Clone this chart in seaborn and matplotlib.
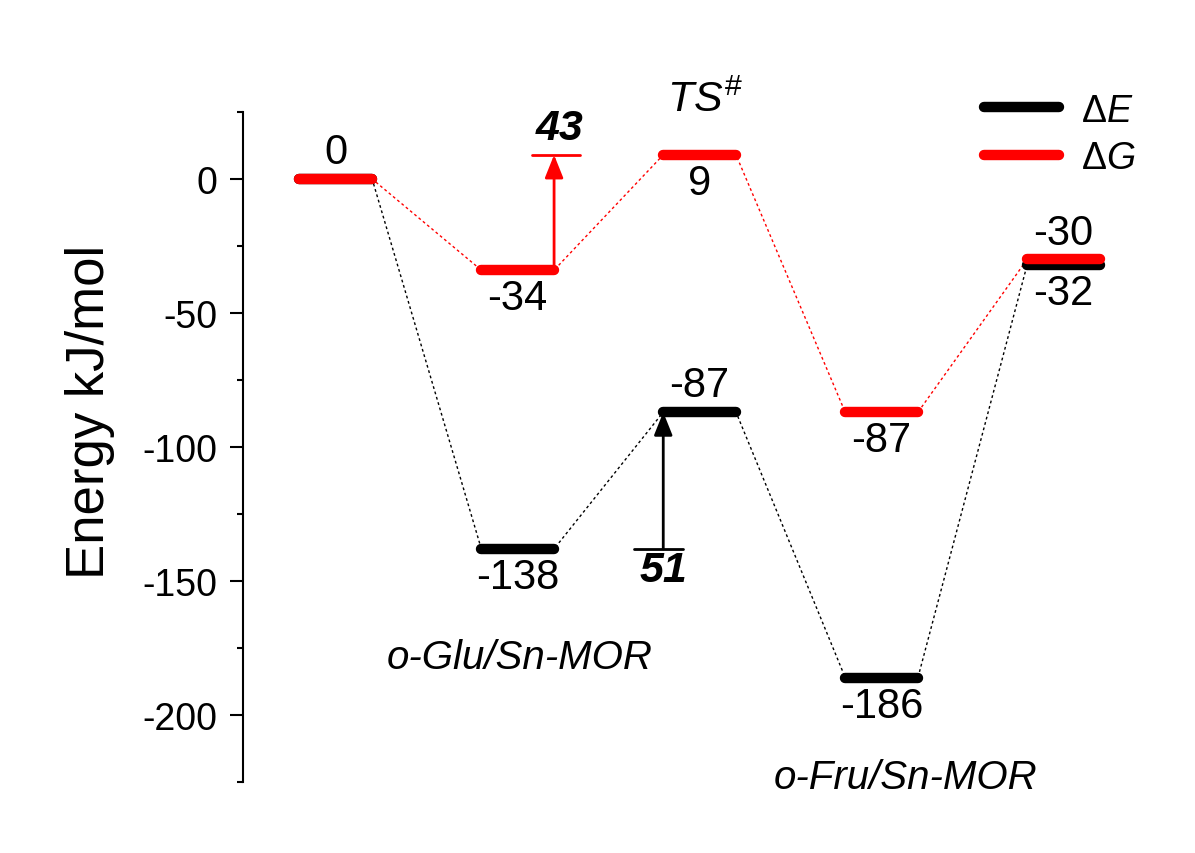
import matplotlib.pyplot as plt
import matplotlib.ticker as ticker
from matplotlib.lines import Line2D
import pandas as pd
import seaborn as sns

#%% data
states = [0, 1, 2, 3, 4]
dE = [0, -138, -87, -186, -32]
dG = [0, -34, 9, -87, -30]
barrier_G = 43   # from -34 up to TS
barrier_E = 51   # from -138 up to TS

# where each number sits relative to its level
label_side_E = [None, 'below', 'above', 'below', 'below']
label_side_G = ['above', 'below', 'below', 'below', 'above']

#%%
half = 0.2
rows = []
for name, vals in [('ΔE', dE), ('ΔG', dG)]:
    for s, v in zip(states, vals):
        rows.append({'series': name, 'state': s, 'x': s - half, 'energy': v})
        rows.append({'series': name, 'state': s, 'x': s + half, 'energy': v})
df = pd.DataFrame(rows)

sns.set_style('ticks')
plt.rcParams['font.family'] = ['Liberation Sans', 'DejaVu Sans']
plt.rcParams['mathtext.fontset'] = 'custom'
plt.rcParams['mathtext.rm'] = 'Liberation Sans'
plt.rcParams['mathtext.it'] = 'Liberation Sans:italic'
plt.rcParams['mathtext.bf'] = 'Liberation Sans:bold'
plt.rcParams['axes.unicode_minus'] = False
for key in ['text.color', 'axes.labelcolor', 'axes.edgecolor', 'xtick.color', 'ytick.color']:
    plt.rcParams[key] = 'black'

palette = {'ΔE': 'black', 'ΔG': 'red'}

fig = plt.figure(figsize=(11.95, 8.54), dpi=100, facecolor='w')
ax = fig.add_axes([0.2033, 0.0831, 0.775, 0.7846])

# dotted connectors through all level ends
sns.lineplot(data=df, x='x', y='energy', hue='series', hue_order=['ΔE', 'ΔG'],
             palette=palette, estimator=None, sort=False, lw=1,
             linestyle=(0, (2, 2)), legend=False, ax=ax)
# thick level bars
sns.lineplot(data=df, x='x', y='energy', hue='series', hue_order=['ΔE', 'ΔG'],
             units='state', estimator=None, palette=palette, lw=7.5,
             solid_capstyle='round', legend=False, ax=ax)

# numbers at the levels
for vals, sides in [(dE, label_side_E), (dG, label_side_G)]:
    for s, v, side in zip(states, vals, sides):
        if side is None:
            continue
        off = 10 if side == 'above' else -10.5
        ax.text(s, v + off, f'{v}', ha='center', va='center', fontsize=30)

# barrier arrows
xg = states[1] + half
ax.annotate('', xy=(xg, dG[2]), xytext=(xg, dG[1]),
            arrowprops=dict(arrowstyle='-|>,head_length=0.5,head_width=0.2',
                            color='red', lw=2, mutation_scale=28,
                            shrinkA=0, shrinkB=0))
ax.plot([xg - 0.12, xg + 0.14], [dG[2], dG[2]], color='red', lw=2)
ax.text(xg + 0.03, dG[2] + 2.5, f'{barrier_G}', ha='center', va='bottom',
        fontsize=31, fontweight='bold', fontstyle='italic')

xe = states[2] - half
ax.annotate('', xy=(xe, dE[2]), xytext=(xe, dE[1]),
            arrowprops=dict(arrowstyle='-|>,head_length=0.5,head_width=0.2',
                            color='black', lw=2, mutation_scale=28,
                            shrinkA=0, shrinkB=0))
ax.plot([xe - 0.16, xe + 0.11], [dE[1], dE[1]], color='black', lw=2)
ax.text(xe, dE[1] - 0.5, f'{barrier_E}', ha='center', va='top',
        fontsize=31, fontweight='bold', fontstyle='italic')

ax.text(2.03, 29.5, r'$TS^{\#}$', ha='center', va='center', fontsize=31)
ax.text(1.01, -178.5, 'o-Glu/Sn-MOR', ha='center', va='center',
        fontsize=29, fontstyle='italic')
ax.text(3.13, -223, 'o-Fru/Sn-MOR', ha='center', va='center',
        fontsize=29, fontstyle='italic')

# axes
ax.set_xlim(-0.51, 4.58)
ax.set_ylim(-225, 25)
ax.yaxis.set_major_locator(ticker.MultipleLocator(50))
ax.yaxis.set_minor_locator(ticker.MultipleLocator(25))
ax.tick_params(axis='y', which='major', length=9.5, width=1.5, labelsize=27, pad=9)
ax.tick_params(axis='y', which='minor', length=4.5, width=1.5)
ax.set_xticks([])
ax.set_xlabel('')
ax.set_ylabel('Energy kJ/mol', fontsize=38)
ax.yaxis.set_label_coords(-0.138, 0.554)
sns.despine(ax=ax, bottom=True)
ax.spines['left'].set_linewidth(1.5)
ax.set_facecolor('white')

handles = [Line2D([], [], color='black', lw=7.5, solid_capstyle='round'),
           Line2D([], [], color='red', lw=7.5, solid_capstyle='round')]
fig.legend(handles, [r'$\Delta E$', r'$\Delta G$'], loc='upper left',
           bbox_to_anchor=(0.795, 0.93), frameon=False, fontsize=27,
           handlelength=2.0, handletextpad=0.6, labelspacing=0.3)

fig.savefig('out.png', dpi=100)
